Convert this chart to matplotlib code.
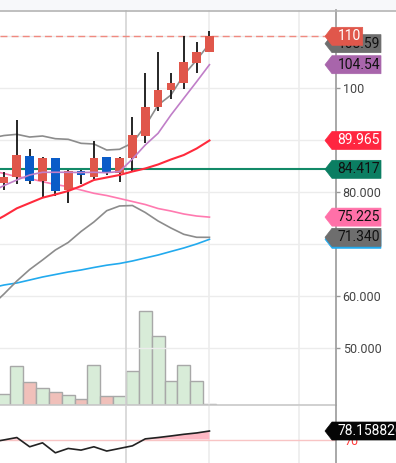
import matplotlib
matplotlib.use("Agg")
import matplotlib.pyplot as plt
from matplotlib.patches import Polygon, Rectangle
from matplotlib.lines import Line2D
from matplotlib.transforms import IdentityTransform
import numpy as np

W, H = 396, 463
plt.rcParams['font.family'] = ['Roboto', 'DejaVu Sans']

# candles (red = up, blue = down)
opens = [81.85, 83.0, 86.98, 82.23, 86.54, 80.44, 84.1, 83.0, 86.73, 83.77,
         86.54, 90.83, 96.46, 99.67, 100.96, 104.92, 106.98]
closes = [83.0, 87.17, 82.23, 86.54, 80.31, 84.1, 83.33, 86.54, 83.77, 86.54,
          91.02, 96.35, 99.67, 101.08, 105.06, 106.98, 110.0]
highs = [83.96, 93.9, 88.27, 86.73, 86.6, 84.29, 84.29, 89.92, 86.73, 86.73,
         94.42, 102.88, 106.92, 102.88, 110.06, 108.96, 111.02]
lows = [80.44, 81.6, 81.6, 79.04, 79.29, 78.0, 81.6, 82.5, 83.33, 82.04,
        83.96, 89.54, 95.69, 97.88, 99.81, 103.0, 106.98]
volumes = [103, 383, 227, 167, 127, 97, 57, 397, 83, 83,
           337, 937, 687, 237, 397, 237, 7]

# overlay lines, first value is the bar before the first visible candle
boll_upper = [90.44, 90.92, 91.15, 90.63, 90.83, 90.31, 90.19, 89.42, 89.29, 88.13,
              88.27, 89.48, 92.75, 96.79, 98.71, 102.56, 105.44, 108.59]
boll_lower = [58.13, 60.44, 62.94, 65.15, 66.98, 68.9, 70.35, 72.46, 74.29, 76.46,
              77.37, 77.46, 76.12, 74.48, 73.13, 71.92, 71.35, 71.34]
ma5 = [80.06, 81.3, 82.37, 83.33, 83.85, 83.85, 83.85, 83.8, 83.85, 83.77,
       84.0, 86.4, 89.1, 91.35, 94.87, 98.08, 101.27, 104.54]
ma20 = [74.1, 75.44, 76.92, 77.94, 78.96, 79.58, 80.25, 81.2, 82.37, 82.85,
        83.33, 84.0, 84.58, 85.35, 86.31, 87.17, 88.42, 89.965]
ma60 = [84.19, 83.62, 83.0, 82.65, 82.04, 81.5, 81.08, 80.44, 79.81, 79.38,
        78.81, 78.23, 77.65, 76.88, 76.4, 75.83, 75.44, 75.225]
ma120 = [61.6, 62.17, 62.56, 63.13, 63.71, 64.19, 64.67, 65.06, 65.54, 65.98,
         66.31, 66.79, 67.37, 67.94, 68.62, 69.29, 70.06, 70.96]
rsi = [67.4, 69.6, 71.9, 63.0, 66.8, 57.2, 61.4, 59.8, 63.0, 58.9,
       61.4, 63.9, 70.6, 71.9, 73.4, 75.0, 76.3, 78.158826]

last_price = 110
cost_line = 84.417
price_ticks = [50, 60, 80, 100]
price_tick_labels = ['50.000', '60.000', '80.000', '100']

x = np.arange(len(closes))
xl = np.arange(-1, len(closes))


def rect(x0, ytop, x1, ybot):
    return [x0 / W, 1 - ybot / H, (x1 - x0) / W, (ybot - ytop) / H]


fig = plt.figure(figsize=(W / 100, H / 100), dpi=100)
fig.patch.set_facecolor('white')
fig.add_artist(Rectangle((0, 1 - 10 / H), 1, 10 / H, transform=fig.transFigure,
                         fc='#f7f8fa', ec='none', zorder=0))
fig.add_artist(Line2D([0, 1], [1 - 10.5 / H, 1 - 10.5 / H], transform=fig.transFigure,
                      color='#b4b4b4', lw=1.2, zorder=1))

xlim = (-0.31, 25.83)

# volume behind the price panel
vax = fig.add_axes(rect(0, 10, 335.7, 404.5))
vax.set_xlim(*xlim)
vax.set_ylim(0, 3945)
vax.axis('off')
vol_colors = ['#d8ecd8' if c >= o else '#f0c0ba' for o, c in zip(opens, closes)]
vax.bar(x, volumes, width=1.0, color=vol_colors, edgecolor='#a8a8a8', linewidth=1.0)

ax = fig.add_axes(rect(0, 10, 335.7, 404.5))
ax.patch.set_alpha(0)
ax.set_xlim(*xlim)
ax.set_ylim(39.19, 115.06)
for v in range(50, 111, 10):
    ax.axhline(v, color='#ececec', lw=1, zorder=0)
ax.axvline(9.5, color='#d4d4d4', lw=1.2, zorder=0)
ax.axvline(16, color='#ececec', lw=1.2, zorder=0)
ax.axvline(23, color='#ececec', lw=1.2, zorder=0)

ax.plot(xl, ma120, color='#22aaee', lw=1.2)
ax.plot(xl, boll_lower, color='#8c8c8c', lw=1.2)
ax.plot(xl, ma60, color='#ff7ab0', lw=1.2)
ax.plot(xl, boll_upper, color='#8c8c8c', lw=1.2)
ax.axhline(cost_line, color='#138a68', lw=1.5)
ax.axhline(last_price, color='#f08a80', lw=1, ls=(0, (5, 3)))

up = [c >= o for o, c in zip(opens, closes)]
candle_colors = ['#e0574b' if u else '#0a5cc8' for u in up]
ax.vlines(x, lows, highs, color='#151515', lw=1.3, zorder=3)
bottoms = [min(o, c) for o, c in zip(opens, closes)]
heights = [abs(c - o) for o, c in zip(opens, closes)]
ax.bar(x, heights, bottom=bottoms, width=0.68, color=candle_colors, zorder=4)

ax.plot(xl, ma5, color='#c07ec8', lw=1.2, zorder=5)
ax.plot(xl, ma20, color='#ff2a3c', lw=1.5, zorder=5)

ax.yaxis.tick_right()
ax.set_yticks(price_ticks)
ax.set_yticklabels(price_tick_labels)
ax.set_xticks([])
ax.tick_params(axis='y', length=3, width=1, color='#999999', labelsize=9,
               labelcolor='#444444', pad=2)
for s in ['top', 'left']:
    ax.spines[s].set_visible(False)
ax.spines['right'].set_color('#999999')
ax.spines['right'].set_linewidth(1.2)
ax.spines['bottom'].set_color('#c8c8c8')
ax.spines['bottom'].set_linewidth(1.2)

# lower indicator panel
lax = fig.add_axes(rect(0, 405.5, 335.7, 463))
lax.set_xlim(*xlim)
lax.set_ylim(47.4, 102.7)
lax.axvline(9.5, color='#d4d4d4', lw=1.2, zorder=0)
lax.axvline(16, color='#ececec', lw=1.2, zorder=0)
lax.axvline(23, color='#ececec', lw=1.2, zorder=0)
lax.axhline(70, color='#f8c4c4', lw=1)
rsi_arr = np.array(rsi)
lax.fill_between(xl, rsi_arr, 70, where=rsi_arr >= 70, interpolate=True,
                 color='#ffb8c4', lw=0)
lax.plot(xl, rsi, color='#222222', lw=1.2)
lax.yaxis.tick_right()
lax.set_yticks([70])
lax.set_yticklabels(['70'])
lax.set_xticks([])
lax.tick_params(axis='y', length=0, labelsize=9, labelcolor='#ff3a3a', pad=6)
for s in ['top', 'left', 'bottom']:
    lax.spines[s].set_visible(False)
lax.spines['right'].set_color('#999999')
lax.spines['right'].set_linewidth(1.2)

# price tags on the right
order = [10]


def tag(a, value, text, fc, tc, x1=381):
    y = a.transData.transform((0, value))[1]
    pts = [(325, y), (332, y + 9), (x1, y + 9), (x1, y - 9), (332, y - 9)]
    z = order[0]
    fig.add_artist(Polygon(pts, closed=True, transform=IdentityTransform(),
                           fc=fc, ec=fc, lw=0.5, zorder=z))
    fig.text(337.5 / W, y / H, text, color=tc, fontsize=10, va='center', ha='left',
             zorder=z + 1)
    order[0] += 2


tag(ax, ma120[-1], '70.960', '#22aaee', '#111111')
tag(ax, boll_lower[-1], '71.340', '#6e6e6e', '#111111')
tag(ax, ma60[-1], '75.225', '#ff70a8', '#111111')
tag(ax, cost_line, '84.417', '#0b7e62', '#111111')
tag(ax, ma20[-1], '89.965', '#ff2640', 'white')
tag(ax, ma5[-1], '104.54', '#a865ab', '#111111')
tag(ax, boll_upper[-1], '108.59', '#6e6e6e', '#111111')
tag(ax, last_price, '110', '#e0574b', 'white', x1=362.7)
tag(lax, rsi[-1], '78.158826', '#050505', 'white', x1=400)

fig.savefig('out.png', dpi=100)
